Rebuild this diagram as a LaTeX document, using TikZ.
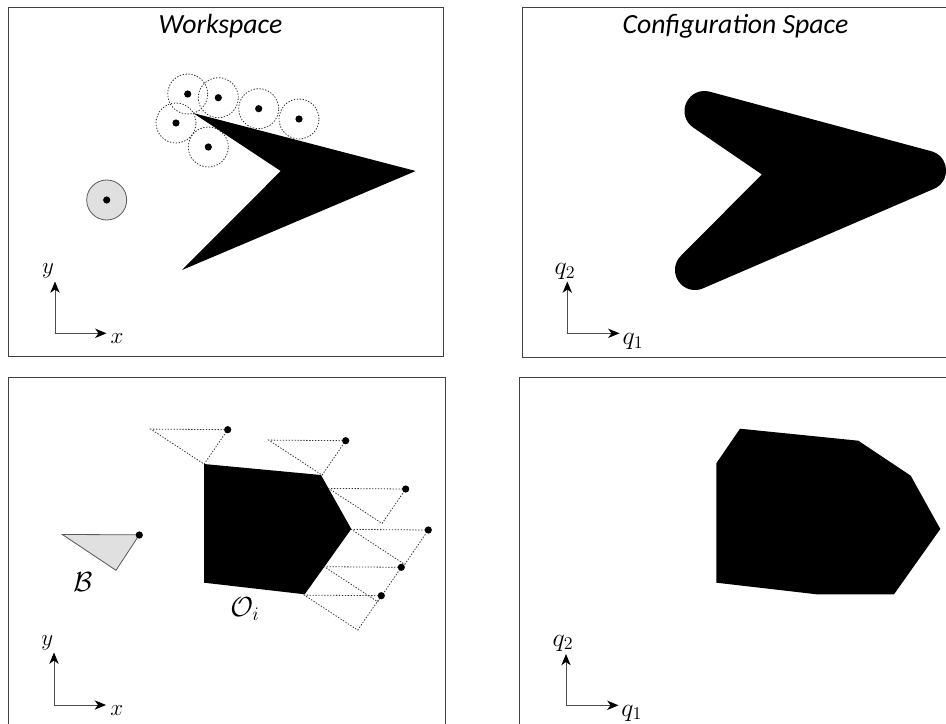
\documentclass[tikz,border=0pt]{standalone}
\usepackage{fontspec}
\setmainfont{Carlito}
\usetikzlibrary{arrows.meta}
\tikzset{
  frame/.style={draw=black!75,line width=0.75pt},
  axis/.style={draw=black!70,line width=0.75pt,-{Stealth[length=8.5pt,width=7pt,inset=2.5pt,black]}},
  title/.style={font=\fontsize{20.8}{24}\selectfont\itshape,inner sep=0pt},
  mlabel/.style={font=\fontsize{17.28}{20}\selectfont,inner sep=0pt},
  qlabel/.style={mlabel,scale=1.12},
  biglabel/.style={font=\fontsize{20.74}{24}\selectfont,inner sep=0pt},
  obst/.style={fill=black,draw=none},
  refdot/.style={circle,fill=black,inner sep=0pt,minimum size=5.4pt},
  dashcirc/.style={circle,draw=black!80,line width=0.6pt,dash pattern=on 1pt off 1.2pt,minimum size=30pt,inner sep=0pt},
  dashtri/.style={draw=black!80,line width=0.6pt,dash pattern=on 1pt off 1.2pt},
  body/.style={fill=black!12,draw=black!65,line width=0.6pt},
}
\begin{document}
\begin{tikzpicture}[x=0.75pt,y=-0.75pt]
\useasboundingbox (0,0) rectangle (946,724);
% frames
\draw[frame] (8,356) -- (8,8) -- (443,8) -- (443,356) -- cycle;
\draw[frame] (946,8) -- (522.5,8) -- (522.5,357) -- (946,357);
\draw[frame] (8,724) -- (8,377) -- (445,377) -- (445,724);
\draw[frame] (946,377) -- (519.5,377) -- (519.5,724);
% titles
\node[title] (t1) at (220.5,26) {Workspace};
\node[title] (t2) at (735.5,26) {Configuration Space};
% workspace obstacle
\fill[obst] (193,113) -- (415.7,171) -- (182,270) -- (280.7,171) -- cycle;
\foreach \n/\x/\y in {a/187.7/94,b/218.3/97.7,c/258.7/108.7,d/299/119,e/176/123,f/208.3/147}{
  \node[dashcirc] (c\n) at (\x,\y) {};
  \node[refdot] (d\n) at (\x,\y) {};
}
\node[circle,body,minimum size=30pt,inner sep=0pt] (disc) at (106.7,200) {};
\node[refdot] (discdot) at (106.7,200) {};
% axes 1
\coordinate (o1) at (55,333.3);
\coordinate (y1) at (55,281.5);
\coordinate (x1) at (106.5,333.3);
\draw[axis] (o1) -- (y1);
\draw[axis] (o1) -- (x1);
\node[mlabel] (ly1) at (48,271) {$y$};
\node[mlabel] (lx1) at (117,339) {$x$};
% C-obstacle 1
\filldraw[black,line width=30pt,line join=round] (704.5,111) -- (926,170.5) -- (695,270) -- (793,171.5) -- cycle;
% axes 2
\coordinate (o2) at (567.3,333.3);
\coordinate (y2) at (567.3,281.5);
\coordinate (x2) at (619.5,333.3);
\draw[axis] (o2) -- (y2);
\draw[axis] (o2) -- (x2);
\node[qlabel] (ly2) at (565,271.7) {$q_2$};
\node[qlabel] (lx2) at (633,341.5) {$q_1$};
% lower-left obstacle
\fill[obst] (204,464) -- (321,475) -- (351.3,529) -- (304.7,594.3) -- (204,582.7) -- cycle;
\foreach \n/\x/\y in {a/227.7/429.7,b/345.7/440.7,c/405.7/489,d/428.3/530,e/401.3/567.3,f/381.3/595.7}{
  \draw[dashtri] (\x,\y) -- ++(-77,-0.6) -- ++(53.4,35) -- cycle;
  \node[refdot] (t\n) at (\x,\y) {};
}
% robot
\filldraw[body] (62.3,534.5) -- (139.3,534.8) -- (116,570.3) -- cycle;
\node[refdot] (bdot) at (139.3,535) {};
\node[biglabel] (lb) at (83,582) {$\mathcal{B}$};
\node[biglabel] (lo) at (245,609) {$\mathcal{O}_i$};
% axes 3
\coordinate (o3) at (54,705);
\coordinate (y3) at (54,652.5);
\coordinate (x3) at (106,705);
\draw[axis] (o3) -- (y3);
\draw[axis] (o3) -- (x3);
\node[mlabel] (ly3) at (47.3,642.7) {$y$};
\node[mlabel] (lx3) at (116.7,710.7) {$x$};
% C-obstacle 2
\fill[obst] (740,428.7) -- (858.3,440.7) -- (910.7,475.7) -- (940.3,529) -- (894,594.3) -- (816.7,594.3) -- (716.3,582.7) -- (716.3,463.3) -- cycle;
% axes 4
\coordinate (o4) at (566,705.3);
\coordinate (y4) at (566,654);
\coordinate (x4) at (618.5,705.3);
\draw[axis] (o4) -- (y4);
\draw[axis] (o4) -- (x4);
\node[qlabel] (ly4) at (563,643) {$q_2$};
\node[qlabel] (lx4) at (631.7,713) {$q_1$};
\end{tikzpicture}
\end{document}
